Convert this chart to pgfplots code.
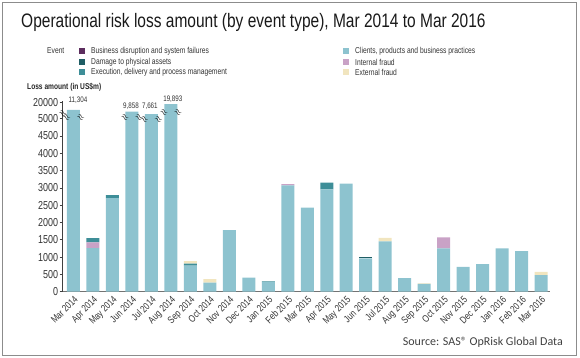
\documentclass[border=0pt]{standalone}
\usepackage{fontspec}
\setmainfont{Liberation Sans}
\newfontfamily\cond[FakeStretch=0.78]{Liberation Sans}
\newfontfamily\tcond[FakeStretch=0.795]{Liberation Sans}
\newfontfamily\src{Carlito}
\usepackage{pgfplots}
\usepackage{pgfplotstable}
\pgfplotsset{compat=1.18}
\definecolor{cBD}{HTML}{5C2D5E}
\definecolor{cDA}{HTML}{1F5D64}
\definecolor{cED}{HTML}{3E8E98}
\definecolor{cCP}{HTML}{8DC3CF}
\definecolor{cIF}{HTML}{C9A2C6}
\definecolor{cEF}{HTML}{F1E5BF}
\definecolor{txt}{HTML}{333333}
\pgfplotstableread{
x cpbp intf edpm dpa ef bdsf
0 5250 0 0 0 0 0
1 1260 165 125 0 0 0
2 2700 0 90 0 0 0
3 5200 0 0 0 0 0
4 5130 0 0 0 0 0
5 5420 0 0 0 0 0
6 750 0 60 0 75 0
7 260 0 0 0 100 0
8 1780 0 0 0 0 0
9 405 0 0 0 0 0
10 280 0 15 0 0 0
11 3070 40 0 0 0 0
12 2430 0 0 0 0 0
13 2960 0 190 0 0 0
14 3120 0 0 0 0 0
15 965 0 0 45 0 0
16 1455 0 0 0 100 0
17 395 0 0 0 0 0
18 225 0 0 0 15 0
19 1255 315 0 0 0 0
20 715 0 0 0 0 0
21 800 0 0 0 0 0
22 1255 0 0 0 0 0
23 1170 0 0 0 0 0
24 480 0 0 0 95 0
}\losses
\pgfplotstableread{
x y label
0.23 5540 11,304
2.95 5370 9,858
3.92 5370 7,661
5.1 5570 19,893
}\biglabels
\pgfplotsset{
  common/.style={
    scale only axis, width=487.3pt, height=190.7pt,
    xmin=-0.554, xmax=24.46, ymin=0, ymax=5510,
    at={(62.7pt,66.3pt)}, anchor=south west,
  }
}
\begin{document}
\begin{tikzpicture}
\useasboundingbox (0,0) rectangle (580pt,358pt);
\draw[color=gray!90, line width=1.5pt] (2.5pt,2.5pt) rectangle (576.5pt,355.5pt);
\node[anchor=west, text=black!90, font=\tcond\fontsize{19.5}{22}\selectfont, inner sep=0pt] at (21pt,336pt) {Operational risk loss amount (by event type), Mar 2014 to Mar 2016};
% legend
\begin{scope}[every node/.style={anchor=west, inner sep=0pt, text=txt, font=\cond\fontsize{8.6}{9}\selectfont}]
\node at (47pt,307pt) {Event};
\fill[cBD] (79pt,304pt) rectangle (85pt,310pt);
\node at (91pt,307pt) {Business disruption and system failures};
\fill[cDA] (79pt,293pt) rectangle (85pt,299pt);
\node at (91pt,296pt) {Damage to physical assets};
\fill[cED] (79pt,283pt) rectangle (85pt,289pt);
\node at (91pt,286pt) {Execution, delivery and process management};
\fill[cCP] (343pt,304pt) rectangle (349pt,310pt);
\node at (355pt,307pt) {Clients, products and business practices};
\fill[cIF] (343pt,293pt) rectangle (349pt,299pt);
\node at (355pt,296pt) {Internal fraud};
\fill[cEF] (343pt,283pt) rectangle (349pt,289pt);
\node at (355pt,286pt) {External fraud};
\node[font=\cond\bfseries\fontsize{8.5}{9}\selectfont, text=black!85] at (27pt,271pt) {Loss amount (in US\$m)};
\end{scope}
\node[anchor=east, inner sep=0pt, text=black!75, font=\src\fontsize{12}{13}\selectfont] at (563pt,16pt) {Source: SAS® OpRisk Global Data};
\begin{axis}[common,
  ybar stacked, bar width=13pt,
  axis x line*=bottom, axis y line*=left,
  x axis line style={line width=1.5pt, color=black!55, -},
  y axis line style={line width=0.6pt, color=black!75, -},
  xtick={0,...,24},
  xticklabels={Mar 2014,Apr 2014,May 2014,Jun 2014,Jul 2014,Aug 2014,Sep 2014,Oct 2014,Nov 2014,Dec 2014,Jan 2015,Feb 2015,Mar 2015,Apr 2015,May 2015,Jun 2015,Jul 2015,Aug 2015,Sep 2015,Oct 2015,Nov 2015,Dec 2015,Jan 2016,Feb 2016,Mar 2016},
  x tick label style={rotate=45, anchor=north east, inner sep=0.5pt, font=\cond\fontsize{10}{11}\selectfont, text=txt},
  ytick={0,500,1000,1500,2000,2500,3000,3500,4000,4500,5000,5474},
  yticklabels={0,500,1000,1500,2000,2500,3000,3500,4000,4500,5000,20000},
  y tick label style={font=\cond\fontsize{11.5}{12}\selectfont, text=txt, inner sep=1.5pt},
  /pgf/number format/assume math mode=true,
  x tick style={draw=none},
  y tick style={color=black!75, line width=0.6pt},
  tick align=outside, major tick length=3pt,
  clip=false,
]
\addplot[fill=cCP, draw=none] table[x=x, y=cpbp] {\losses};
\addplot[fill=cIF, draw=none] table[x=x, y=intf] {\losses};
\addplot[fill=cED, draw=none] table[x=x, y=edpm] {\losses};
\addplot[fill=cDA, draw=none] table[x=x, y=dpa] {\losses};
\addplot[fill=cEF, draw=none] table[x=x, y=ef] {\losses};
\addplot[fill=cBD, draw=none] table[x=x, y=bdsf] {\losses};
\end{axis}
\begin{axis}[common, hide axis, clip=false]
\addplot[draw=none, mark=none, nodes near coords, point meta=explicit symbolic,
  nodes near coords style={anchor=center, inner sep=0pt, font=\cond\fontsize{8}{9}\selectfont, text=txt}]
  table[x=x, y=y, meta=label] {\biglabels};
\addplot[only marks, mark=text, text mark={\fontsize{9}{9}\selectfont$\approx$}, mark options={rotate=-35, color=black!75}]
  coordinates {(-0.554,5150) (-0.36,5030) (0.36,5030) (2.64,5030) (3.36,5030) (3.64,4960) (4.36,4960) (4.64,5160) (5.36,5160)};
\end{axis}
\end{tikzpicture}
\end{document}
